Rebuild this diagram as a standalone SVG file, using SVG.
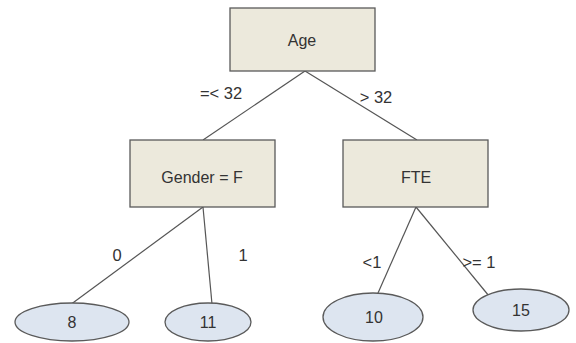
<svg xmlns="http://www.w3.org/2000/svg" width="576" height="343" viewBox="0 0 576 343">
<style>
.box{fill:#ece9dc;stroke:#5a5a5a;stroke-width:1.3}
.leaf{fill:#dde5f0;stroke:#5a5a5a;stroke-width:1.3}
.edge{stroke:#555;stroke-width:1.2;fill:none}
text{font-family:"Liberation Sans",Arial,sans-serif;font-size:16px;fill:#333;text-anchor:middle}
.lbl{font-size:16.5px}
</style>
<rect width="576" height="343" fill="#ffffff"/>
<g id="connectors">
<line class="edge" x1="305" y1="71" x2="203" y2="140"/>
<line class="edge" x1="305" y1="71" x2="417" y2="140"/>
<line class="edge" x1="203" y1="207" x2="70" y2="305"/>
<line class="edge" x1="203" y1="207" x2="212" y2="304"/>
<line class="edge" x1="416" y1="207" x2="378" y2="293"/>
<line class="edge" x1="416" y1="207" x2="489" y2="296"/>
<text class="lbl" x="221" y="99">=&lt; 32</text>
<text class="lbl" x="376" y="103">&gt; 32</text>
<text class="lbl" x="117" y="261">0</text>
<text class="lbl" x="243" y="261">1</text>
<text class="lbl" x="372" y="268">&lt;1</text>
<text class="lbl" x="479" y="268">&gt;= 1</text>
</g>
<g id="age"><rect class="box" x="230" y="8" width="145" height="63"/><text x="302" y="46">Age</text></g>
<g id="gender"><rect class="box" x="130" y="140" width="145" height="67"/><text x="202" y="183">Gender = F</text></g>
<g id="fte"><rect class="box" x="343" y="140" width="145" height="67"/><text x="416" y="183">FTE</text></g>
<g id="leaf8"><ellipse class="leaf" cx="72" cy="322" rx="57" ry="19"/><text x="72" y="328">8</text></g>
<g id="leaf11"><ellipse class="leaf" cx="208" cy="322" rx="43" ry="19"/><text x="208" y="328">11</text></g>
<g id="leaf10"><ellipse class="leaf" cx="373" cy="317" rx="50" ry="24"/><text x="374" y="323">10</text></g>
<g id="leaf15"><ellipse class="leaf" cx="521" cy="310" rx="48" ry="21"/><text x="521" y="316">15</text></g>
</svg>
